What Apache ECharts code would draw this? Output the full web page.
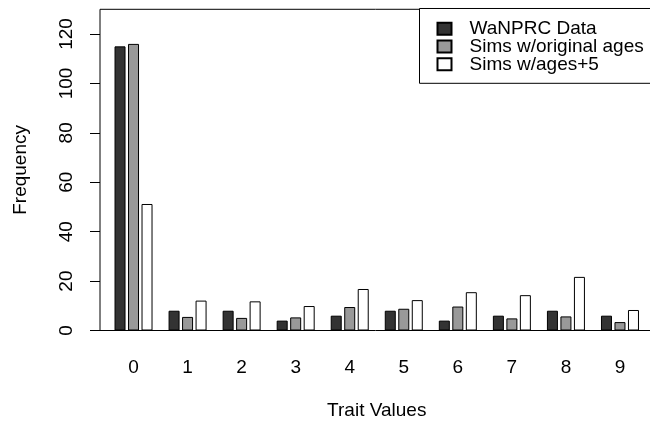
<!DOCTYPE html>
<html>
<head>
<meta charset="utf-8">
<script src="https://cdn.jsdelivr.net/npm/echarts@6/dist/echarts.min.js"></script>
<style>html,body{margin:0;padding:0;background:#fff}#c{width:650px;height:423px}</style>
</head>
<body>
<div id="c"></div>
<script>
const categories = ['0', '1', '2', '3', '4', '5', '6', '7', '8', '9'];
const wanprcData = [115, 8, 8, 4, 6, 8, 4, 6, 8, 6];
const simsOriginal = [116, 5.5, 5.1, 5.3, 9.5, 8.8, 9.7, 4.9, 5.7, 3.4];
const simsPlus5 = [51.2, 12.1, 11.8, 9.9, 16.8, 12.3, 15.5, 14.3, 21.7, 8.3];
const yTicks = [0, 20, 40, 60, 80, 100, 120];
const seriesNames = ['WaNPRC Data', 'Sims w/original ages', 'Sims w/ages+5'];

const FONT = 'Liberation Sans, Arial, Helvetica, sans-serif';
const FS = 19;
const chart = echarts.init(document.getElementById('c'), null, { renderer: 'canvas' });

const barStyle = (color) => ({ color: color, borderColor: '#000', borderWidth: 1 });

chart.setOption({
  animation: false,
  backgroundColor: '#fff',
  textStyle: { fontFamily: FONT, color: '#000' },
  grid: [
    { left: 106.5, right: 3, top: 9.3, bottom: 92.5, containLabel: false, outerBoundsMode: 'none' },
    { left: 100, right: -5, top: 9.3, bottom: 92.5, containLabel: false, outerBoundsMode: 'none',
      show: true, borderColor: '#000', borderWidth: 1, backgroundColor: 'transparent' }
  ],
  xAxis: [
    {
      type: 'category', gridIndex: 0, data: categories,
      axisLine: { show: false }, axisTick: { show: false }, splitLine: { show: false },
      axisLabel: { color: '#000', fontSize: FS, fontFamily: FONT, margin: 28 },
      name: 'Trait Values', nameLocation: 'middle', nameGap: 71,
      nameTextStyle: { color: '#000', fontSize: FS, fontFamily: FONT }
    },
    { type: 'value', gridIndex: 1, show: false, min: 0, max: 1 }
  ],
  yAxis: [
    { type: 'value', gridIndex: 0, min: 0, max: 130, show: false },
    {
      type: 'value', gridIndex: 1, min: 0, max: 130,
      axisLine: { show: false },
      splitLine: { show: false },
      axisTick: { show: true, length: 10, customValues: yTicks, lineStyle: { color: '#000', width: 1 } },
      axisLabel: { customValues: yTicks, rotate: 90, color: '#000', fontSize: FS, fontFamily: FONT, margin: 24 },
      name: 'Frequency', nameLocation: 'middle', nameGap: 70,
      nameTextStyle: { color: '#000', fontSize: FS, fontFamily: FONT }
    }
  ],
  legend: {
    orient: 'vertical', left: 419.5, top: 8.5,
    padding: [10.8, 40, 9.5, 17],
    itemWidth: 14, itemHeight: 12, itemGap: -1.25,
    borderColor: '#000', borderWidth: 1, backgroundColor: '#fff',
    icon: 'rect',
    textStyle: { color: '#000', fontSize: FS, fontFamily: FONT, padding: [0, 0, 0, 13] },
    data: seriesNames
  },
  series: [
    { name: seriesNames[0], type: 'bar', data: wanprcData, barWidth: 11, barGap: '22.7%', itemStyle: barStyle('#333333') },
    { name: seriesNames[1], type: 'bar', data: simsOriginal, barWidth: 11, barGap: '22.7%', itemStyle: barStyle('#999999') },
    { name: seriesNames[2], type: 'bar', data: simsPlus5, barWidth: 11, barGap: '22.7%', itemStyle: barStyle('#ffffff') }
  ]
});
</script>
</body>
</html>
